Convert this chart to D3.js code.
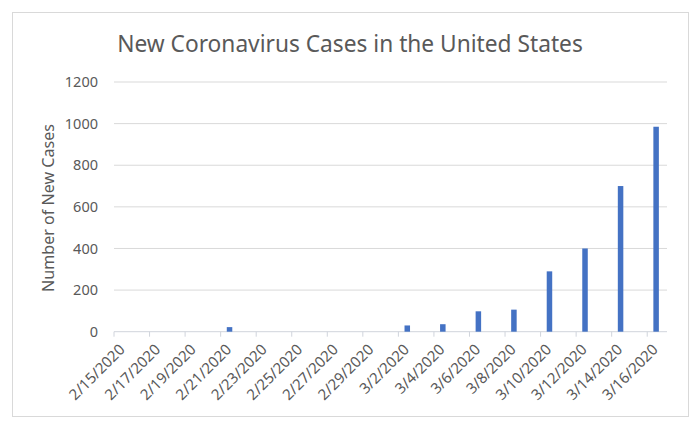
<!DOCTYPE html>
<html><head><meta charset="utf-8">
<script src="https://cdn.jsdelivr.net/npm/d3@7"></script>
<style>body{margin:0;background:#fff;} text{font-family:"Noto Sans",sans-serif;}</style>
</head><body>
<svg id="c" width="694" height="421"></svg>
<script>
const title = "New Coronavirus Cases in the United States";
const yTitle = "Number of New Cases";
const firstDay = "2/15/2020", lastDay = "3/16/2020";
const dates = ["2/21/2020","3/2/2020","3/4/2020","3/6/2020","3/8/2020","3/10/2020","3/12/2020","3/14/2020","3/16/2020"];
const values = [22, 30, 36, 98, 106, 290, 400, 700, 985];
const yTicks = [0,200,400,600,800,1000,1200];

const parse = d3.timeParse("%m/%d/%Y");
const fmt = d => (d.getMonth()+1)+"/"+d.getDate()+"/"+d.getFullYear();
const days = d3.timeDay.range(parse(firstDay), d3.timeDay.offset(parse(lastDay),1));
const svg = d3.select("#c");
const m = {l:114, r:665, t:82, b:331.7};

svg.append("rect").attr("x",12.5).attr("y",12.5).attr("width",676).attr("height",404)
  .attr("fill","#fff").attr("stroke","#d9d9d9");

const x = d3.scaleBand().domain(days.map(fmt)).range([m.l,m.r]).padding(0);
const y = d3.scaleLinear().domain([0,1200]).range([m.b,m.t]);

// gridlines
svg.append("g").selectAll("line").data(yTicks.filter(t=>t>0)).join("line")
  .attr("x1",m.l).attr("x2",m.r+2).attr("y1",d=>y(d)).attr("y2",d=>y(d))
  .attr("stroke","#d9d9d9").attr("stroke-width",1);

// y labels
svg.append("g").selectAll("text").data(yTicks).join("text")
  .attr("x",98).attr("y",d=>y(d)).attr("dy","0.36em").attr("text-anchor","end")
  .attr("font-size",14.5).attr("fill","#595959").text(d=>d);

// x axis line and ticks (every 2 days)
svg.append("line").attr("x1",m.l).attr("x2",m.r+2).attr("y1",m.b).attr("y2",m.b).attr("stroke","#d0d4dc");
const labelDays = days.filter((d,i)=>i%2===0).map(fmt);
svg.append("g").selectAll("line").data(labelDays).join("line")
  .attr("x1",d=>x(d)).attr("x2",d=>x(d)).attr("y1",m.b).attr("y2",m.b+5).attr("stroke","#d0d4dc");

svg.append("g").selectAll("text").data(labelDays).join("text")
  .attr("transform",d=>`translate(${x(d)+x.bandwidth()/2-1},${m.b+15}) rotate(-45)`)
  .attr("text-anchor","end").attr("dy","0.36em")
  .attr("font-size",15).attr("fill","#595959").text(d=>d);

// bars
const bw = 5.5;
svg.append("g").selectAll("rect").data(dates.map((d,i)=>({d,v:values[i]}))).join("rect")
  .attr("x",d=>x(d.d)+x.bandwidth()/2-bw/2).attr("width",bw)
  .attr("y",d=>y(d.v)).attr("height",d=>m.b-y(d.v)).attr("fill","#4472c4");

// title
const tt = svg.append("text").attr("x",350).attr("y",52).attr("text-anchor","middle")
  .attr("font-size",20).attr("fill","#595959").text(title);
tt.attr("font-size", 20*466/tt.node().getComputedTextLength());

const yt = svg.append("text").attr("transform","translate(54,208) rotate(-90)").attr("text-anchor","middle")
  .attr("font-size",14).attr("fill","#595959").text(yTitle);
yt.attr("font-size", 14*168/yt.node().getComputedTextLength());
</script>
</body></html>
